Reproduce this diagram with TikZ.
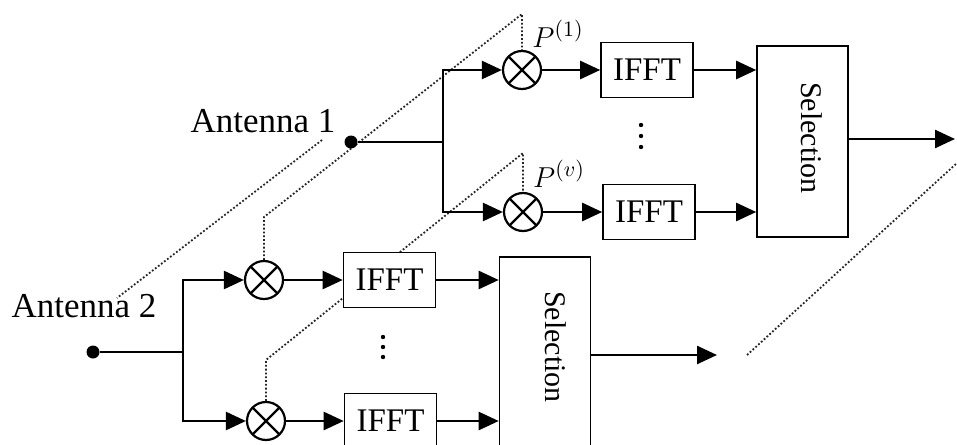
\documentclass[tikz,border=0pt]{standalone}
\usepackage{fontspec}
\setmainfont{Liberation Serif}
\usetikzlibrary{arrows.meta,backgrounds}
\begin{document}
\begin{tikzpicture}[x=0.5pt,y=-0.5pt,
  wire/.style={line width=1.25pt},
  arr/.style={wire,-{Triangle[length=10pt,width=9pt]}},
  dotline/.style={densely dotted,line width=0.9pt,black!85},
  boxnode/.style={draw,line width=0.8pt,fill=white,inner sep=0pt},
  fftbox/.style={boxnode,minimum width=46pt,minimum height=27.5pt,font=\fontsize{16.5}{19}\selectfont},
  selbox/.style={boxnode,minimum width=45.5pt,minimum height=95.5pt},
  seltext/.style={rotate=-90,font=\fontsize{15}{18}\selectfont,inner sep=0pt},
  mult/.style={circle,draw,line width=1.1pt,minimum size=19pt,inner sep=0pt,fill=white,
    path picture={\draw[line width=1.1pt] (path picture bounding box.north west)--(path picture bounding box.south east)
      (path picture bounding box.north east)--(path picture bounding box.south west);}},
  port/.style={circle,fill,inner sep=0pt,minimum size=6.5pt},
  lab/.style={font=\fontsize{17.5}{21}\selectfont,inner sep=0pt},
  plab/.style={font=\fontsize{15}{18}\selectfont,inner sep=0pt}
]
\useasboundingbox (0,0) rectangle (957,444);
\clip (0,0) rectangle (957,444);

% ---------- Antenna 1 layer ----------
\node[port] (d1) at (351,142) {};
\coordinate (j1) at (443,142);
\coordinate (j1t) at (443,70);
\coordinate (j1b) at (443,212);
\node[mult] (m11) at (522,70) {};
\node[mult] (m1v) at (523,212) {};
\node[fftbox] (i11) at (647,70) {IFFT};
\node[fftbox] (i1v) at (649,212) {IFFT};
\node[selbox] (s1) at (802.5,141.5) {};
\node[seltext] (s1t) at (812,138) {Selection};
\coordinate (o1) at (955,139);

% ---------- Antenna 2 layer ----------
\node[port] (d2) at (93,352) {};
\coordinate (j2) at (183,352);
\coordinate (j2t) at (183,280);
\coordinate (j2b) at (183,421);
\node[mult] (m21) at (264,280) {};
\node[mult] (m2v) at (266,421) {};
\node[fftbox] (i21) at (389.5,280) {IFFT};
\node[fftbox] (i2v) at (390.5,421) {IFFT};
\node[selbox] (s2) at (545,352.5) {};
\node[seltext] (s2t) at (555.5,347) {Selection};
\coordinate (o2) at (717,355);

% labels
\node[lab] (a1) at (263,121) {Antenna 1};
\node[lab] (a2) at (84,306) {Antenna 2};
\node[plab] (p1) at (558,34) {$P^{(1)}$};
\node[plab] (pv) at (559,174) {$P^{(v)}$};

% vertical dots
\foreach \yy in {125,136,147} \fill (641,\yy) circle (1.1pt);
\foreach \yy in {337,347,357} \fill (383,\yy) circle (1.1pt);

% connectors layer 1
\draw[wire] (d1) -- (j1);
\draw[wire,line cap=rect] (j1t) -- (j1b);
\draw[arr] (j1t) -- (m11);
\draw[arr] (j1b) -- (m1v);
\draw[arr] (m11) -- (i11);
\draw[arr] (m1v) -- (i1v);
\draw[arr] (i11) -- (i11 -| s1.west);
\draw[arr] (i1v) -- (i1v -| s1.west);
\draw[arr] (o1 -| s1.east) -- (o1);

% connectors layer 2
\draw[wire] (d2) -- (j2);
\draw[wire,line cap=rect] (j2t) -- (j2b);
\draw[arr] (j2t) -- (m21);
\draw[arr] (j2b) -- (m2v);
\draw[arr] (m21) -- (i21);
\draw[arr] (m2v) -- (i2v);
\draw[arr] (i21) -- (i21 -| s2.west);
\draw[arr] (i2v) -- (i2v -| s2.west);
\draw[arr] (o2 -| s2.east) -- (o2);

% dotted perspective lines
\coordinate (c1a) at (263,217);
\coordinate (c1b) at (521,14);
\coordinate (cva) at (265,360);
\coordinate (cvb) at (523,153);
\coordinate (la) at (322,140);
\coordinate (lb) at (117,298);
\coordinate (ra) at (747,355);
\coordinate (rb) at (957,163);
\begin{scope}[on background layer]
\draw[dotline] (m21.north) -- (m21.north |- c1a) -- (m11.north |- c1b) -- (m11.north);
\draw[dotline] (m2v.north) -- (m2v.north |- cva) -- (m1v.north |- cvb) -- (m1v.north);
\draw[dotline] (la) -- (lb);
\draw[dotline] (ra) -- (rb);
\end{scope}
\end{tikzpicture}
\end{document}
